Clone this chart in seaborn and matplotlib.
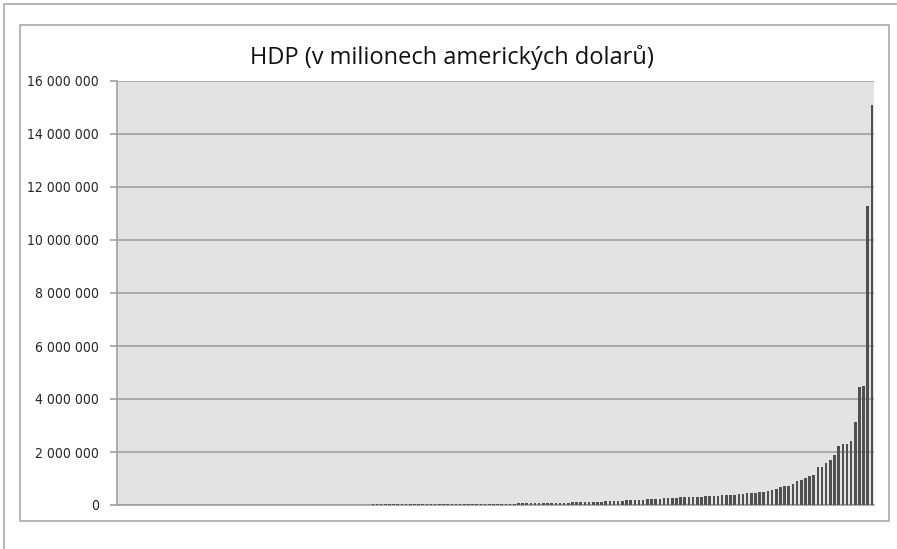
import matplotlib
matplotlib.use("Agg")
import matplotlib.pyplot as plt
import matplotlib.ticker as mticker
from matplotlib.patches import Rectangle
import seaborn as sns
import pandas as pd

# GDP values (millions USD), largest first
top_values = [15100000, 11300000, 4480000, 4460000, 3140000, 2410000, 2310000,
              2300000, 2230000, 1870000, 1700000, 1600000, 1420000, 1420000,
              1140000, 1090000, 1020000, 940000, 890000, 790000]
upper_mid_values = [730000, 715000, 690000, 620000, 575000, 525000, 495000, 485000,
                    465000, 445000, 435000, 420000, 410000, 395000, 375000, 370000,
                    360000, 345000, 340000, 335000, 330000]
mid_values = [320000, 310000, 305000, 300000, 295000, 285000, 275000, 265000, 255000,
              250000, 240000, 230000, 220000, 215000, 205000, 200000, 190000, 185000,
              175000, 165000, 160000, 150000, 140000, 135000, 125000]
lower_mid_values = [120000, 115000, 112000, 108000, 104000, 100000, 97000, 93000, 90000,
                    87000, 84000, 80000, 77000, 74000, 71000, 68000, 65000, 62000, 60000,
                    58000, 55000, 53000, 51000, 49000, 47000, 45000, 43000, 41000, 40000,
                    38000, 36000, 35000, 33000, 32000]
small_values = [31000, 30000, 29500, 29000, 28000, 27500, 26500, 26000, 25500, 25000,
                24500, 24000, 23500, 23000, 22000, 21500, 21000, 20500, 20000, 19500,
                19000, 18500, 18000, 17500, 17000, 16500, 16000, 15500, 15000, 14500,
                14000, 13500, 13000, 12500, 12000, 11500, 11000, 10500, 10000, 9500,
                9000, 8500, 8000, 7500, 7000, 6500, 6000, 5800, 5500, 5200,
                5000, 4700, 4500, 4300, 4000, 3800, 3600, 3400, 3200, 3000,
                2800, 2600, 2400, 2200, 2000, 1900, 1800, 1700, 1500, 1300,
                1200, 1100, 1000, 900, 800, 700, 600, 500, 350, 300, 200, 40]

title = "HDP (v milionech amerických dolarů)"
y_ticks = [0, 2000000, 4000000, 6000000, 8000000, 10000000, 12000000, 14000000, 16000000]

values = sorted(top_values + upper_mid_values + mid_values + lower_mid_values + small_values)
df = pd.DataFrame({"idx": list(range(len(values))), "hdp": values})

W, H = 897, 549
fig = plt.figure(figsize=(W / 100, H / 100), dpi=100)
fig.patch.set_facecolor("white")

# outer and inner frames
fig.add_artist(Rectangle((4 / W, -0.1), 1.2, 1 - 4 / H + 0.1, transform=fig.transFigure,
                         fill=False, edgecolor="#a8a8a8", linewidth=1.2))
fig.add_artist(Rectangle((20 / W, (H - 521) / H), (889 - 20) / W, (521 - 25) / H,
                         transform=fig.transFigure, fill=False, edgecolor="#a8a8a8",
                         linewidth=1.2))

ax = fig.add_axes([117 / W, (H - 505) / H, 757 / W, 424 / H])
ax.set_facecolor("#e3e3e3")

sns.barplot(data=df, x="idx", y="hdp", color="#505050", width=0.62,
            saturation=1, ax=ax, native_scale=False, edgecolor="none", zorder=3)

ax.set_ylim(0, 16000000)
ax.set_xlim(-0.5, len(values) - 0.5)
ax.set_yticks(y_ticks)
ax.yaxis.set_major_formatter(mticker.FuncFormatter(lambda v, p: f"{int(v):,}".replace(",", " ")))
ax.set_xticks([])
ax.set_xlabel("")
ax.set_ylabel("")
ax.grid(axis="y", color="#a6a6a6", linewidth=1.3)
ax.set_axisbelow(True)
for s in ["top", "right"]:
    ax.spines[s].set_visible(False)
for s in ["left", "bottom"]:
    ax.spines[s].set_color("#a0a0a0")
    ax.spines[s].set_linewidth(1.2)
ax.spines["bottom"].set_zorder(2)
ax.tick_params(axis="y", length=5, width=1.2, color="#a0a0a0", pad=8,
               labelcolor="#262626")
for lbl in ax.get_yticklabels():
    lbl.set_family(["DejaVu Sans"])
    lbl.set_fontstretch("condensed")
    lbl.set_fontsize(10)

fig.text(452 / W, 1 - 57 / H, title, ha="center", va="center", fontsize=17,
         family=["Open Sans", "DejaVu Sans"], color="#111111")

fig.savefig("out.png", dpi=100, facecolor="white")
